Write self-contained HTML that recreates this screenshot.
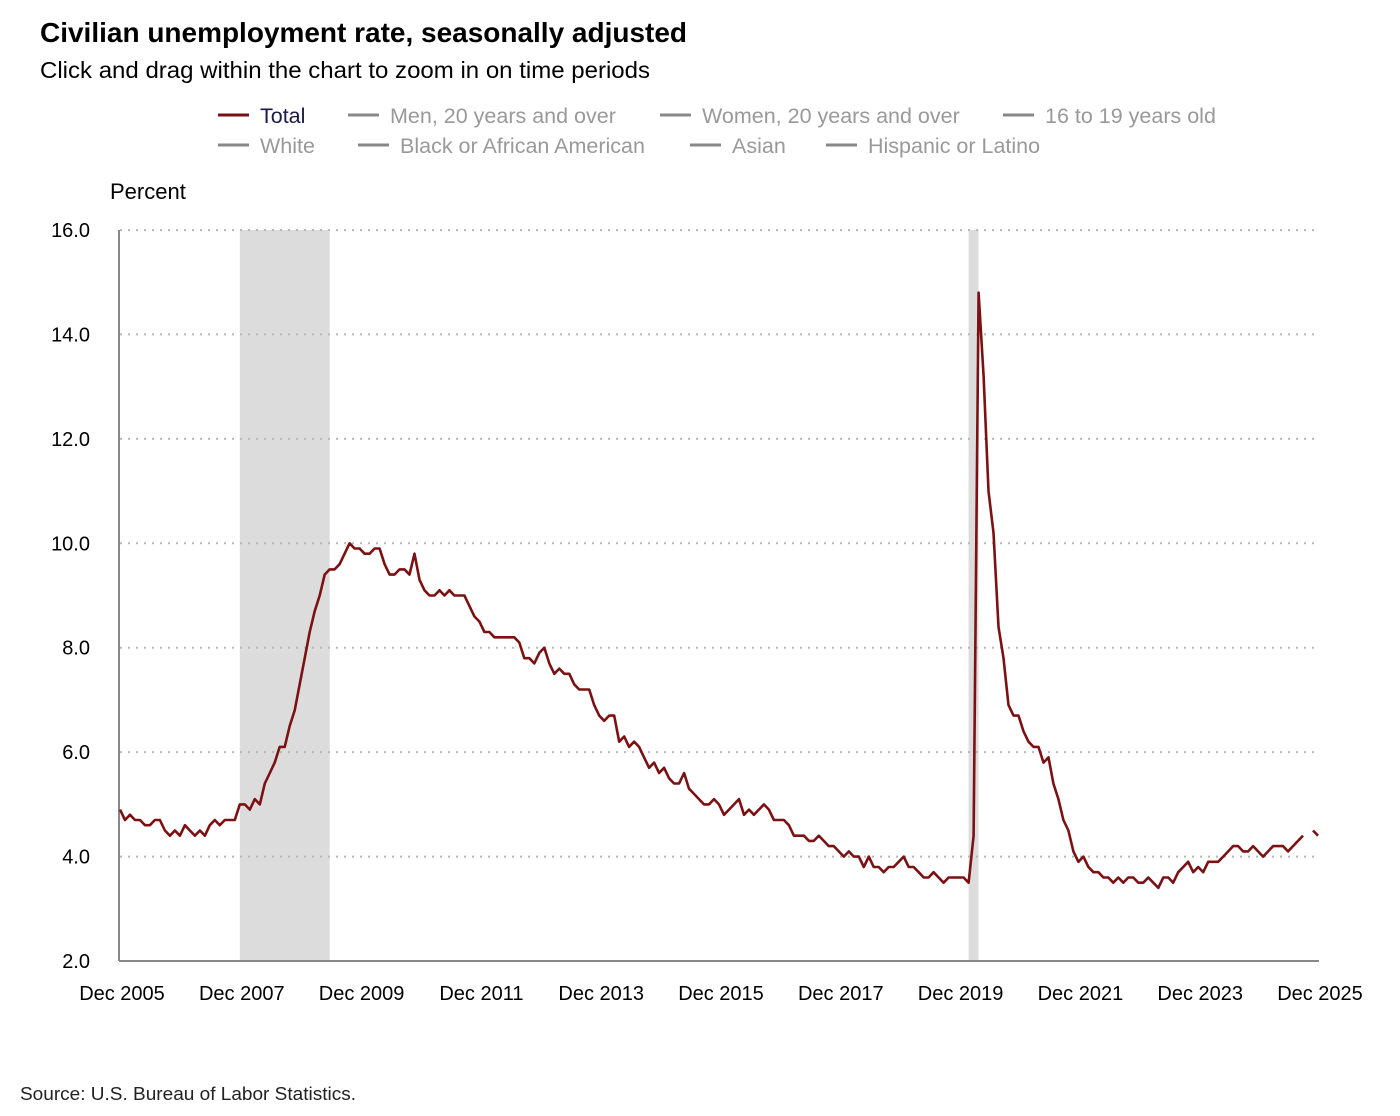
<!DOCTYPE html>
<html><head><meta charset="utf-8"><style>
body{margin:0;background:#fff;}
svg{display:block;font-family:"Liberation Sans",sans-serif;}
</style></head><body>
<svg id="c" width="1400" height="1116" viewBox="0 0 1400 1116">
<text x="40" y="42" font-size="28" font-weight="bold" fill="#000" textLength="647" lengthAdjust="spacingAndGlyphs">Civilian unemployment rate, seasonally adjusted</text>
<text x="40" y="78" font-size="23" fill="#000" textLength="610" lengthAdjust="spacingAndGlyphs">Click and drag within the chart to zoom in on time periods</text>
<g id="legend"></g>
<text x="110" y="199" font-size="22" fill="#000">Percent</text>
<g id="rec"></g><g id="grid"></g><g id="axes"></g><g id="series"></g>
<text x="20" y="1100" font-size="18" fill="#222" textLength="336" lengthAdjust="spacingAndGlyphs">Source: U.S. Bureau of Labor Statistics.</text>
</svg>
<script>
const legendLabels=["Total","Men, 20 years and over","Women, 20 years and over","16 to 19 years old","White","Black or African American","Asian","Hispanic or Latino"];
const yTicks=[2,4,6,8,10,12,14,16];
const xTickLabels=["Dec 2005","Dec 2007","Dec 2009","Dec 2011","Dec 2013","Dec 2015","Dec 2017","Dec 2019","Dec 2021","Dec 2023","Dec 2025"];
const recessions=[[24,42],[170,172]]; // month index from Dec 2005
const rates=[4.9,
4.7,4.8,4.7,4.7,4.6,4.6,4.7,4.7,4.5,4.4,4.5,4.4,
4.6,4.5,4.4,4.5,4.4,4.6,4.7,4.6,4.7,4.7,4.7,5.0,
5.0,4.9,5.1,5.0,5.4,5.6,5.8,6.1,6.1,6.5,6.8,7.3,
7.8,8.3,8.7,9.0,9.4,9.5,9.5,9.6,9.8,10.0,9.9,9.9,
9.8,9.8,9.9,9.9,9.6,9.4,9.4,9.5,9.5,9.4,9.8,9.3,
9.1,9.0,9.0,9.1,9.0,9.1,9.0,9.0,9.0,8.8,8.6,8.5,
8.3,8.3,8.2,8.2,8.2,8.2,8.2,8.1,7.8,7.8,7.7,7.9,
8.0,7.7,7.5,7.6,7.5,7.5,7.3,7.2,7.2,7.2,6.9,6.7,
6.6,6.7,6.7,6.2,6.3,6.1,6.2,6.1,5.9,5.7,5.8,5.6,
5.7,5.5,5.4,5.4,5.6,5.3,5.2,5.1,5.0,5.0,5.1,5.0,
4.8,4.9,5.0,5.1,4.8,4.9,4.8,4.9,5.0,4.9,4.7,4.7,
4.7,4.6,4.4,4.4,4.4,4.3,4.3,4.4,4.3,4.2,4.2,4.1,
4.0,4.1,4.0,4.0,3.8,4.0,3.8,3.8,3.7,3.8,3.8,3.9,
4.0,3.8,3.8,3.7,3.6,3.6,3.7,3.6,3.5,3.6,3.6,3.6,
3.6,3.5,4.4,14.8,13.2,11.0,10.2,8.4,7.8,6.9,6.7,6.7,
6.4,6.2,6.1,6.1,5.8,5.9,5.4,5.1,4.7,4.5,4.1,3.9,
4.0,3.8,3.7,3.7,3.6,3.6,3.5,3.6,3.5,3.6,3.6,3.5,
3.5,3.6,3.5,3.4,3.6,3.6,3.5,3.7,3.8,3.9,3.7,3.8,
3.7,3.9,3.9,3.9,4.0,4.1,4.2,4.2,4.1,4.1,4.2,4.1,
4.0,4.1,4.2,4.2,4.2,4.1,4.2,4.3,4.4,null,4.5,4.4];
const NS="http://www.w3.org/2000/svg";
const X0=120,X1=1318,Y0=961,Y1=230;
const xs=i=>X0+(X1-X0)*i/240;
const ys=v=>Y0-(Y0-Y1)*(v-2)/14;
function mk(t,a,p){const e=document.createElementNS(NS,t);for(const k in a)e.setAttribute(k,a[k]);p.appendChild(e);return e;}
const lg=document.getElementById('legend');
legendLabels.forEach((l,i)=>{
 const pos=i<4?[[218,115],[348,115],[660,115],[1003,115]][i]:[[218,145],[358,145],[690,145],[826,145]][i-4];
 const g=mk('g',{},lg);
 
 
 mk('line',{x1:pos[0],x2:pos[0]+31,y1:pos[1],y2:pos[1],stroke:i==0?'#7b1113':'#888','stroke-width':3},g);
 const t=mk('text',{x:pos[0]+42,y:pos[1]+8,'font-size':21.5,fill:i==0?'#1a1a4a':'#999'},g);t.textContent=l;
});
const rec=document.getElementById('rec');
recessions.forEach(r=>{const e=mk('rect',{x:xs(r[0]),y:Y1,width:xs(r[1])-xs(r[0]),height:Y0-Y1,fill:'#dcdcdc'},rec);
 
 });
const grid=document.getElementById('grid');
yTicks.forEach(v=>{
 if(v>2){const l=mk('line',{x1:X0,x2:X1,y1:ys(v),y2:ys(v),stroke:'#b8b8b8','stroke-width':2,'stroke-dasharray':'2,6'},grid);
 
 }
 const t=mk('text',{x:90,y:ys(v)+7,'font-size':20,'text-anchor':'end',fill:'#000'},grid);t.textContent=v.toFixed(1);
 
 
});
const ax=document.getElementById('axes');
const ya=mk('line',{x1:X0-1,x2:X0-1,y1:Y1,y2:Y0,stroke:'#888','stroke-width':2},ax);


const xa=mk('line',{x1:X0-1,x2:X1+1,y1:Y0,y2:Y0,stroke:'#888','stroke-width':2},ax);


xTickLabels.forEach((l,i)=>{const t=mk('text',{x:xs(i*24)+2,y:1000,'font-size':20,'text-anchor':'middle',fill:'#000'},ax);t.textContent=l;
 
 });
const se=document.getElementById('series');
let d='',pen=false;
rates.forEach((v,i)=>{if(v==null){pen=false;return;}d+=(pen?'L':'M')+xs(i).toFixed(1)+','+ys(v).toFixed(1);pen=true;});
const p=mk('path',{d:d,fill:'none',stroke:'#7b1113','stroke-width':2.6,'stroke-linejoin':'round'},se);


</script>
</body></html>
